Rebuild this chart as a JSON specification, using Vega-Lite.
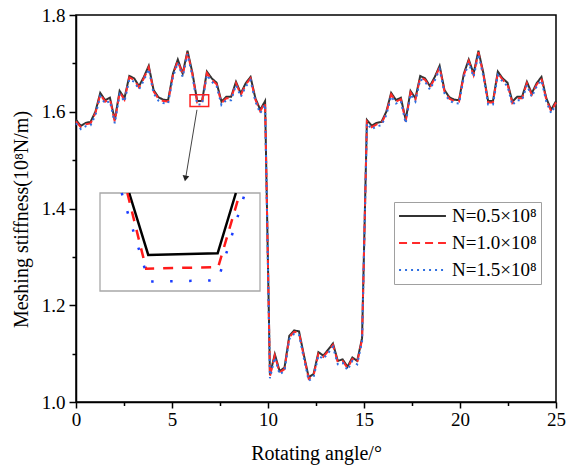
{
  "$schema": "https://vega.github.io/schema/vega-lite/v6.json",
  "width": 480,
  "height": 387,
  "autosize": "none",
  "padding": {"left": 76, "top": 15, "right": 10, "bottom": 65},
  "background": "white",
  "config": {
    "font": "Liberation Serif",
    "view": {"stroke": "black", "strokeWidth": 1.5},
    "axis": {
      "domainColor": "black", "domainWidth": 1.5, "tickColor": "black", "tickWidth": 1.5,
      "grid": false, "labelFont": "Liberation Serif", "labelFontSize": 19, "labelColor": "black",
      "titleFont": "Liberation Serif", "titleFontSize": 20, "titleFontWeight": "normal", "titleColor": "black"
    },
    "legend": {
      "orient": "none", "legendX": 318, "legendY": 187, "strokeColor": "#a0a0a0", "padding": 4,
      "labelFont": "Liberation Serif", "labelFontSize": 19, "labelColor": "black",
      "symbolType": "stroke", "symbolSize": 2200, "symbolStrokeWidth": 2, "rowPadding": 7, "labelOffset": 5,
      "clipHeight": 20
    }
  },
  "layer": [
    {
      "data": {"values": [
        {"x": 0, "a": 1.583, "b": 1.580, "c": 1.576},
        {"x": 0.253, "a": 1.571, "b": 1.568, "c": 1.564},
        {"x": 0.505, "a": 1.577, "b": 1.574, "c": 1.570},
        {"x": 0.758, "a": 1.579, "b": 1.576, "c": 1.572},
        {"x": 1.010, "a": 1.600, "b": 1.597, "c": 1.593},
        {"x": 1.263, "a": 1.639, "b": 1.636, "c": 1.632},
        {"x": 1.515, "a": 1.624, "b": 1.621, "c": 1.617},
        {"x": 1.768, "a": 1.629, "b": 1.626, "c": 1.622},
        {"x": 2.020, "a": 1.583, "b": 1.580, "c": 1.576},
        {"x": 2.273, "a": 1.643, "b": 1.640, "c": 1.636},
        {"x": 2.525, "a": 1.628, "b": 1.625, "c": 1.621},
        {"x": 2.778, "a": 1.674, "b": 1.671, "c": 1.667},
        {"x": 3.030, "a": 1.669, "b": 1.666, "c": 1.662},
        {"x": 3.283, "a": 1.653, "b": 1.650, "c": 1.646},
        {"x": 3.535, "a": 1.672, "b": 1.669, "c": 1.665},
        {"x": 3.788, "a": 1.695, "b": 1.692, "c": 1.688},
        {"x": 4.040, "a": 1.645, "b": 1.642, "c": 1.638},
        {"x": 4.293, "a": 1.630, "b": 1.627, "c": 1.623},
        {"x": 4.545, "a": 1.625, "b": 1.622, "c": 1.618},
        {"x": 4.798, "a": 1.624, "b": 1.621, "c": 1.617},
        {"x": 5.051, "a": 1.679, "b": 1.676, "c": 1.672},
        {"x": 5.303, "a": 1.708, "b": 1.705, "c": 1.701},
        {"x": 5.556, "a": 1.679, "b": 1.676, "c": 1.672},
        {"x": 5.808, "a": 1.726, "b": 1.723, "c": 1.719},
        {"x": 6.061, "a": 1.681, "b": 1.678, "c": 1.674},
        {"x": 6.313, "a": 1.622, "b": 1.619, "c": 1.615},
        {"x": 6.566, "a": 1.622, "b": 1.619, "c": 1.615},
        {"x": 6.818, "a": 1.683, "b": 1.680, "c": 1.676},
        {"x": 7.071, "a": 1.669, "b": 1.666, "c": 1.662},
        {"x": 7.323, "a": 1.660, "b": 1.657, "c": 1.653},
        {"x": 7.576, "a": 1.621, "b": 1.618, "c": 1.614},
        {"x": 7.828, "a": 1.631, "b": 1.628, "c": 1.624},
        {"x": 8.081, "a": 1.631, "b": 1.628, "c": 1.624},
        {"x": 8.333, "a": 1.662, "b": 1.659, "c": 1.655},
        {"x": 8.586, "a": 1.638, "b": 1.635, "c": 1.631},
        {"x": 8.838, "a": 1.659, "b": 1.656, "c": 1.652},
        {"x": 9.091, "a": 1.672, "b": 1.669, "c": 1.665},
        {"x": 9.343, "a": 1.628, "b": 1.625, "c": 1.621},
        {"x": 9.596, "a": 1.604, "b": 1.601, "c": 1.597},
        {"x": 9.848, "a": 1.622, "b": 1.619, "c": 1.615},
        {"x": 10.101, "a": 1.056, "b": 1.053, "c": 1.049},
        {"x": 10.354, "a": 1.099, "b": 1.096, "c": 1.092},
        {"x": 10.606, "a": 1.064, "b": 1.061, "c": 1.057},
        {"x": 10.859, "a": 1.071, "b": 1.068, "c": 1.064},
        {"x": 11.111, "a": 1.137, "b": 1.134, "c": 1.130},
        {"x": 11.364, "a": 1.148, "b": 1.145, "c": 1.141},
        {"x": 11.616, "a": 1.146, "b": 1.143, "c": 1.139},
        {"x": 11.869, "a": 1.097, "b": 1.094, "c": 1.090},
        {"x": 12.121, "a": 1.051, "b": 1.048, "c": 1.044},
        {"x": 12.374, "a": 1.058, "b": 1.055, "c": 1.051},
        {"x": 12.626, "a": 1.103, "b": 1.100, "c": 1.096},
        {"x": 12.879, "a": 1.096, "b": 1.093, "c": 1.089},
        {"x": 13.131, "a": 1.108, "b": 1.105, "c": 1.101},
        {"x": 13.384, "a": 1.121, "b": 1.118, "c": 1.114},
        {"x": 13.636, "a": 1.085, "b": 1.082, "c": 1.078},
        {"x": 13.889, "a": 1.088, "b": 1.085, "c": 1.081},
        {"x": 14.141, "a": 1.073, "b": 1.070, "c": 1.066},
        {"x": 14.394, "a": 1.092, "b": 1.089, "c": 1.085},
        {"x": 14.646, "a": 1.085, "b": 1.082, "c": 1.078},
        {"x": 14.899, "a": 1.132, "b": 1.129, "c": 1.125},
        {"x": 15.152, "a": 1.583, "b": 1.580, "c": 1.576},
        {"x": 15.404, "a": 1.571, "b": 1.568, "c": 1.564},
        {"x": 15.657, "a": 1.577, "b": 1.574, "c": 1.570},
        {"x": 15.909, "a": 1.579, "b": 1.576, "c": 1.572},
        {"x": 16.162, "a": 1.600, "b": 1.597, "c": 1.593},
        {"x": 16.414, "a": 1.639, "b": 1.636, "c": 1.632},
        {"x": 16.667, "a": 1.624, "b": 1.621, "c": 1.617},
        {"x": 16.919, "a": 1.629, "b": 1.626, "c": 1.622},
        {"x": 17.172, "a": 1.583, "b": 1.580, "c": 1.576},
        {"x": 17.424, "a": 1.643, "b": 1.640, "c": 1.636},
        {"x": 17.677, "a": 1.628, "b": 1.625, "c": 1.621},
        {"x": 17.929, "a": 1.674, "b": 1.671, "c": 1.667},
        {"x": 18.182, "a": 1.669, "b": 1.666, "c": 1.662},
        {"x": 18.434, "a": 1.653, "b": 1.650, "c": 1.646},
        {"x": 18.687, "a": 1.672, "b": 1.669, "c": 1.665},
        {"x": 18.939, "a": 1.695, "b": 1.692, "c": 1.688},
        {"x": 19.192, "a": 1.645, "b": 1.642, "c": 1.638},
        {"x": 19.444, "a": 1.630, "b": 1.627, "c": 1.623},
        {"x": 19.697, "a": 1.625, "b": 1.622, "c": 1.618},
        {"x": 19.949, "a": 1.624, "b": 1.621, "c": 1.617},
        {"x": 20.202, "a": 1.679, "b": 1.676, "c": 1.672},
        {"x": 20.455, "a": 1.708, "b": 1.705, "c": 1.701},
        {"x": 20.707, "a": 1.679, "b": 1.676, "c": 1.672},
        {"x": 20.960, "a": 1.726, "b": 1.723, "c": 1.719},
        {"x": 21.212, "a": 1.681, "b": 1.678, "c": 1.674},
        {"x": 21.465, "a": 1.622, "b": 1.619, "c": 1.615},
        {"x": 21.717, "a": 1.622, "b": 1.619, "c": 1.615},
        {"x": 21.970, "a": 1.683, "b": 1.680, "c": 1.676},
        {"x": 22.222, "a": 1.669, "b": 1.666, "c": 1.662},
        {"x": 22.475, "a": 1.660, "b": 1.657, "c": 1.653},
        {"x": 22.727, "a": 1.621, "b": 1.618, "c": 1.614},
        {"x": 22.980, "a": 1.631, "b": 1.628, "c": 1.624},
        {"x": 23.232, "a": 1.631, "b": 1.628, "c": 1.624},
        {"x": 23.485, "a": 1.662, "b": 1.659, "c": 1.655},
        {"x": 23.737, "a": 1.638, "b": 1.635, "c": 1.631},
        {"x": 23.990, "a": 1.659, "b": 1.656, "c": 1.652},
        {"x": 24.242, "a": 1.672, "b": 1.669, "c": 1.665},
        {"x": 24.495, "a": 1.628, "b": 1.625, "c": 1.621},
        {"x": 24.747, "a": 1.604, "b": 1.601, "c": 1.597},
        {"x": 25.0, "a": 1.622, "b": 1.619, "c": 1.615}
      ]},
      "resolve": {"axis": {"x": "independent", "y": "independent"}},
      "layer": [
        {
          "transform": [{"fold": ["a", "b", "c"], "as": ["key", "y"]}],
          "mark": {"type": "line", "strokeWidth": 2},
          "encoding": {
            "x": {"field": "x", "type": "quantitative",
              "scale": {"domain": [0, 25], "nice": false, "zero": false},
              "axis": {"orient": "bottom", "values": [0, 5, 10, 15, 20, 25], "tickSize": 6, "labelPadding": 2, "title": "Rotating angle/°", "titlePadding": 14, "labelFlush": false}},
            "y": {"field": "y", "type": "quantitative",
              "scale": {"domain": [1.0, 1.8], "nice": false, "zero": false},
              "axis": {"orient": "left", "values": [1.0, 1.2, 1.4, 1.6, 1.8], "format": ".1f", "tickSize": 7, "labelPadding": 4, "title": "Meshing stiffness(10⁸N/m)", "titlePadding": 10, "titleY": 204, "labelFlush": false}},
            "color": {"field": "key", "type": "nominal",
              "scale": {"domain": ["a", "b", "c"], "range": ["#333333", "#ff2a2a", "#2f6fe0"]},
              "legend": {"title": null, "labelExpr": "datum.label == 'a' ? 'N=0.5×10⁸' : datum.label == 'b' ? 'N=1.0×10⁸' : 'N=1.5×10⁸'"}},
            "strokeDash": {"field": "key", "type": "nominal",
              "scale": {"domain": ["a", "b", "c"], "range": [[1, 0], [8, 5], [2, 4]]},
              "legend": {"title": null, "labelExpr": "datum.label == 'a' ? 'N=0.5×10⁸' : datum.label == 'b' ? 'N=1.0×10⁸' : 'N=1.5×10⁸'"}}
          }
        },
        {
          "data": {"values": [{"mx": 2.5}, {"mx": 7.5}, {"mx": 12.5}, {"mx": 17.5}, {"mx": 22.5}]},
          "mark": {"type": "rule", "opacity": 0},
          "encoding": {
            "x": {"field": "mx", "type": "quantitative",
              "axis": {"orient": "bottom", "values": [2.5, 7.5, 12.5, 17.5, 22.5], "tickSize": 3.5, "labels": false, "domain": false, "title": null}}
          }
        },
        {
          "data": {"values": [{"my": 1.1}, {"my": 1.3}, {"my": 1.5}, {"my": 1.7}]},
          "mark": {"type": "rule", "opacity": 0},
          "encoding": {
            "y": {"field": "my", "type": "quantitative",
              "axis": {"orient": "left", "values": [1.1, 1.3, 1.5, 1.7], "tickSize": 4, "labels": false, "domain": false, "title": null}}
          }
        },
        {
          "data": {"values": [{"x0": 5.94, "x1": 6.91, "y0": 1.611, "y1": 1.635}]},
          "mark": {"type": "rect", "fill": null, "fillOpacity": 0, "stroke": "#ff2020", "strokeWidth": 1.5},
          "encoding": {
            "x": {"field": "x0", "type": "quantitative", "axis": null},
            "x2": {"field": "x1"},
            "y": {"field": "y0", "type": "quantitative", "axis": null},
            "y2": {"field": "y1"}
          }
        },
        {
          "data": {"values": [{"x0": 6.30, "y0": 1.604, "x1": 5.72, "y1": 1.465}]},
          "mark": {"type": "rule", "color": "#444444", "strokeWidth": 1},
          "encoding": {
            "x": {"field": "x0", "type": "quantitative", "axis": null},
            "y": {"field": "y0", "type": "quantitative", "axis": null},
            "x2": {"field": "x1"},
            "y2": {"field": "y1"}
          }
        },
        {
          "data": {"values": [{"x": 5.70, "y": 1.462}]},
          "mark": {"type": "point", "shape": "triangle-down", "filled": true, "color": "#222222", "size": 45, "angle": 10, "opacity": 1},
          "encoding": {
            "x": {"field": "x", "type": "quantitative", "axis": null},
            "y": {"field": "y", "type": "quantitative", "axis": null}
          }
        }
      ]
    },
    {
      "layer": [
        {
          "data": {"values": [{"x0": 6.13, "x1": 6.727, "y0": 1.6128, "y1": 1.6378}]},
          "mark": {"type": "rect", "fill": "white", "stroke": "#a8a8a8", "strokeWidth": 1.3},
          "encoding": {
            "x": {"field": "x0", "type": "quantitative", "scale": {"domain": [6.13, 6.727], "range": [24, 184], "nice": false, "zero": false}, "axis": null},
            "x2": {"field": "x1"},
            "y": {"field": "y0", "type": "quantitative", "scale": {"domain": [1.6128, 1.6378], "range": [276, 178], "nice": false, "zero": false}, "axis": null},
            "y2": {"field": "y1"}
          }
        },
        {
          "data": {"values": [
            {"key": "a", "x": 6.239, "y": 1.6378},
            {"key": "a", "x": 6.310, "y": 1.6220},
            {"key": "a", "x": 6.569, "y": 1.6224},
            {"key": "a", "x": 6.637, "y": 1.6378},
            {"key": "b", "x": 6.232, "y": 1.6378},
            {"key": "b", "x": 6.302, "y": 1.6185},
            {"key": "b", "x": 6.571, "y": 1.6189},
            {"key": "b", "x": 6.652, "y": 1.6378},
            {"key": "c", "x": 6.211, "y": 1.6378},
            {"key": "c", "x": 6.312, "y": 1.6152},
            {"key": "c", "x": 6.570, "y": 1.6155},
            {"key": "c", "x": 6.671, "y": 1.6378}
          ]},
          "layer": [
            {
              "transform": [{"filter": "datum.key == 'a'"}],
              "mark": {"type": "line", "color": "black", "strokeWidth": 2.5},
              "encoding": {
                "x": {"field": "x", "type": "quantitative", "axis": null},
                "y": {"field": "y", "type": "quantitative", "axis": null}
              }
            },
            {
              "transform": [{"filter": "datum.key == 'b'"}],
              "mark": {"type": "line", "color": "#ff1a1a", "strokeWidth": 2.5, "strokeDash": [10, 9]},
              "encoding": {
                "x": {"field": "x", "type": "quantitative", "axis": null},
                "y": {"field": "y", "type": "quantitative", "axis": null}
              }
            },
            {
              "transform": [{"filter": "datum.key == 'c'"}],
              "mark": {"type": "line", "color": "#1a3cff", "strokeWidth": 2.5, "strokeDash": [2.5, 16.5]},
              "encoding": {
                "x": {"field": "x", "type": "quantitative", "axis": null},
                "y": {"field": "y", "type": "quantitative", "axis": null}
              }
            }
          ]
        }
      ]
    }
  ],
  "resolve": {"scale": {"x": "independent", "y": "independent"}}
}
